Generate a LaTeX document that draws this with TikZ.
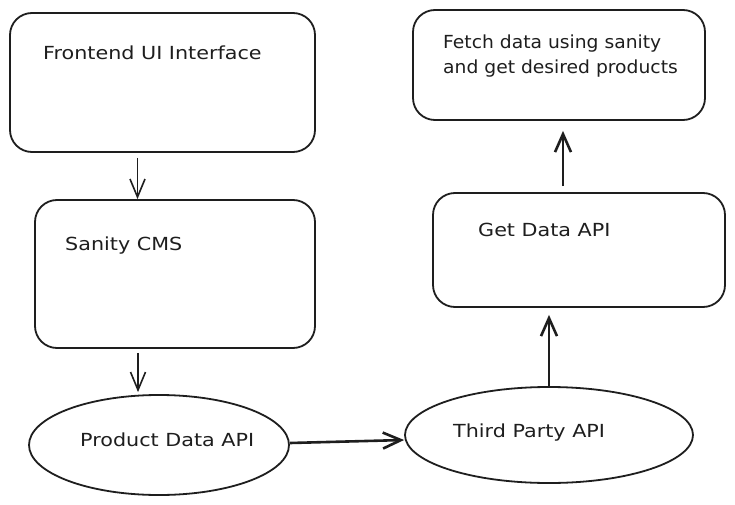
\documentclass[tikz,border=0pt]{standalone}
\usepackage{fontspec}
\setmainfont{DejaVu Sans}[FakeStretch=1.15]
\newfontfamily\narrowfont{DejaVu Sans}[FakeStretch=1.04]
\usetikzlibrary{arrows.meta,shapes.geometric}
\definecolor{ink}{HTML}{1E1E1E}
\begin{document}
\begin{tikzpicture}[x=1pt,y=-1pt,
  box/.style={draw=ink,line width=1.8pt,rounded corners=22pt,inner sep=0pt},
  oval/.style={draw=ink,line width=1.8pt,ellipse,inner sep=0pt},
  lbl/.style={anchor=west,inner sep=0pt,text=ink,font=\fontsize{18}{25}\selectfont,align=left},
  thin/.style={draw=ink,line width=1.6pt,-{Straight Barb[length=18pt,width=15pt]}},
  thick/.style={draw=ink,line width=2.6pt,-{Straight Barb[length=18pt,width=16pt]}}]
\useasboundingbox[fill=white] (0,0) rectangle (735,505);
% boxes
\node[box,minimum width=305pt,minimum height=139pt] (front) at (162.5,82.5) {};
\node[box,minimum width=280pt,minimum height=148pt] (sanity) at (175,274) {};
\node[box,minimum width=292pt,minimum height=110pt] (fetch) at (559,65) {};
\node[box,minimum width=292pt,minimum height=114pt] (getdata) at (579,250) {};
\node[oval,minimum width=260pt,minimum height=100pt] (prod) at (159,445) {};
\node[oval,minimum width=288pt,minimum height=96pt] (third) at (549,435) {};
% labels
\node[lbl] (tfront) at (43,53) {Frontend UI Interface};
\node[lbl] (tsanity) at (65,246) {Sanity CMS};
\node[lbl,font=\fontsize{18}{25}\selectfont\narrowfont] (tfetch) at (443,56) {Fetch data using sanity\\and get desired products};
\node[lbl] (tget) at (478,230) {Get Data API};
\node[lbl] (tprod) at (80,440) {Product Data API};
\node[lbl] (tthird) at (453,433) {Third Party API};
% connector anchors
\coordinate (c1) at ([xshift=-25pt]front.south);
\coordinate (c2) at ([xshift=-37pt]sanity.south);
\coordinate (c5) at ([xshift=-16pt]getdata.north);
% connectors
\draw[thin,shorten <=5pt] (c1) -- (c1 |- sanity.north);
\draw[thin,shorten <=4pt] (c2) -- ([yshift=2pt]c2 |- prod.north);
\draw[thick] ([yshift=2pt]prod.east) -- ([yshift=-5pt]third.west);
\draw[thick,shorten >=7pt] (third.north) -- (third.north |- getdata.south);
\draw[thick,shorten <=6pt,shorten >=10pt] (c5) -- (c5 |- fetch.south);
\end{tikzpicture}
\end{document}
